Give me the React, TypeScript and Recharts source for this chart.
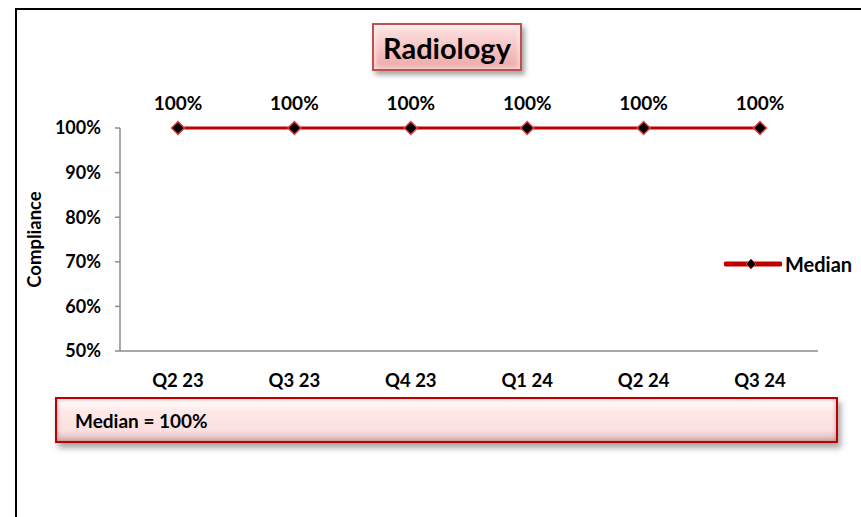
import React from "react";
import { LineChart, Line, XAxis, YAxis, LabelList } from "recharts";

// quarters and compliance values
const quarters = ["Q2 23", "Q3 23", "Q4 23", "Q1 24", "Q2 24", "Q3 24"];
const median = [1, 1, 1, 1, 1, 1];
const yTicks = [0.5, 0.6, 0.7, 0.8, 0.9, 1];

const RED = "#c00000";
const FONT = "Lato, 'Open Sans', sans-serif";

const data = quarters.map((q, i) => ({ q, median: median[i] }));

const pct = (v: number) => `${Math.round(v * 100)}%`;

// black diamond with a red edge, like the Excel marker
function Diamond(props: any) {
  const { cx, cy } = props;
  if (cx == null || cy == null) return null;
  const r = 6.5;
  return (
    <path
      d={`M${cx},${cy - r} L${cx + r},${cy} L${cx},${cy + r} L${cx - r},${cy} Z`}
      fill="#000"
      stroke="#e04040"
      strokeWidth={1.5}
    />
  );
}

function LegendBox() {
  return (
    <div style={{ display: "flex", alignItems: "center", fontFamily: FONT, fontWeight: 700, fontSize: 20 }}>
      <svg width={58} height={14}>
        <line x1={2} y1={7} x2={56} y2={7} stroke={RED} strokeWidth={5} strokeLinecap="round" />
        <path d="M27,2 L32,7 L27,12 L22,7 Z" fill="#000" stroke="#e04040" strokeWidth={1} />
      </svg>
      <span style={{ marginLeft: 3, color: "#000" }}>Median</span>
    </div>
  );
}

export default function App() {
  return (
    <div style={{ position: "fixed", left: 0, top: 0, width: 861, height: 517, background: "#fff", overflow: "hidden" }}>
      {/* outer frame (only top and left edges show) */}
      <div
        style={{
          position: "absolute",
          left: 15,
          top: 8,
          width: 900,
          height: 600,
          borderTop: "2px solid #000",
          borderLeft: "2px solid #000",
        }}
      />

      <LineChart
        width={861}
        height={517}
        data={data}
        margin={{ top: 128, right: 43, bottom: 136, left: 0 }}
        style={{ position: "absolute", left: 0, top: 0 }}
      >
        <XAxis
          dataKey="q"
          height={30}
          padding={{ left: 58, right: 58 }}
          axisLine={{ stroke: "#8c8c8c", strokeWidth: 1.5 }}
          tickLine={false}
          tick={{ fontSize: 18.5, fontWeight: 700, fill: "#000", fontFamily: FONT }}
          tickMargin={17}
        />
        <YAxis
          width={120}
          domain={[0.5, 1]}
          ticks={yTicks}
          tickFormatter={pct}
          axisLine={{ stroke: "#8c8c8c", strokeWidth: 1.5 }}
          tickLine={{ stroke: "#8c8c8c", strokeWidth: 1.5 }}
          tickSize={5}
          tickMargin={14}
          tick={{ fontSize: 18, fontWeight: 700, fill: "#000", fontFamily: FONT }}
          label={{
            value: "Compliance",
            angle: -90,
            position: "insideLeft",
            offset: 34,
            style: { fontSize: 18.5, fontWeight: 700, fill: "#000", fontFamily: FONT, textAnchor: "middle" },
          }}
        />
        <Line
          dataKey="median"
          name="Median"
          stroke={RED}
          strokeWidth={3}
          dot={<Diamond />}
          activeDot={false}
          isAnimationActive={false}
        >
          <LabelList
            dataKey="median"
            position="top"
            offset={18}
            formatter={(v: any) => pct(Number(v))}
            style={{ fontSize: 19, fontWeight: 700, fill: "#000", fontFamily: FONT }}
          />
        </Line>
      </LineChart>

      {/* legend */}
      <div style={{ position: "absolute", left: 724, top: 252 }}>
        <LegendBox />
      </div>

      {/* title box */}
      <div
        style={{
          position: "absolute",
          left: 372,
          top: 23,
          width: 150,
          height: 48,
          boxSizing: "border-box",
          border: "2px solid #c0504d",
          background: "linear-gradient(to bottom, #fde4e4 0%, #f6c2c2 55%, #eca7a7 100%)",
          boxShadow: "3px 4px 5px rgba(0,0,0,0.35), inset 0 0 6px rgba(255,255,255,0.9)",
          display: "flex",
          alignItems: "center",
          justifyContent: "center",
          fontFamily: FONT,
          fontWeight: 700,
          fontSize: 29,
          color: "#000",
        }}
      >
        Radiology
      </div>

      {/* summary box */}
      <div
        style={{
          position: "absolute",
          left: 55,
          top: 397,
          width: 783,
          height: 46,
          boxSizing: "border-box",
          border: "2px solid #c00000",
          background: "linear-gradient(to bottom, #ffffff 0%, #fde8e8 30%, #fbe0e0 75%, #d9b8b8 100%)",
          boxShadow: "3px 5px 6px rgba(0,0,0,0.35), inset 0 0 4px rgba(150,100,100,0.6)",
          display: "flex",
          alignItems: "center",
          paddingLeft: 18,
          fontFamily: FONT,
          fontWeight: 700,
          fontSize: 19,
          color: "#000",
        }}
      >
        Median = 100%
      </div>
    </div>
  );
}
